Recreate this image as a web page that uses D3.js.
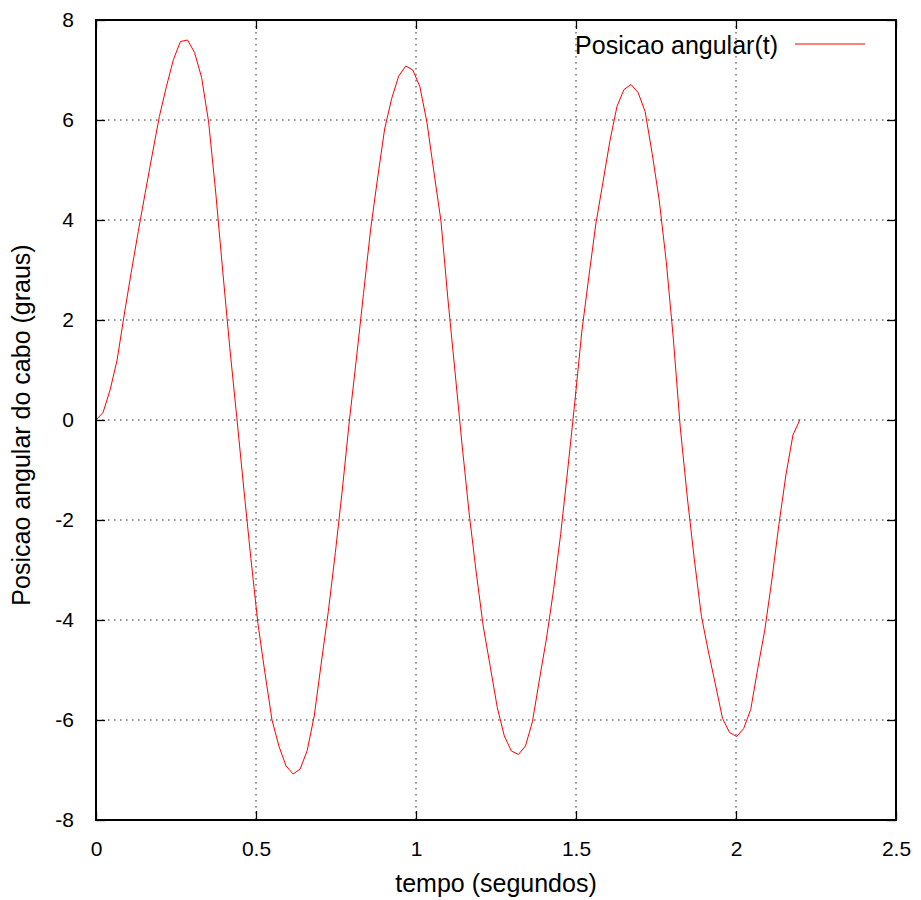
<!DOCTYPE html>
<html>
<head>
<meta charset="utf-8">
<title>Posicao angular do cabo</title>
<script src="https://d3js.org/d3.v7.min.js"></script>
<style>
body { margin: 0; background: #fff; }
svg text { font-family: 'Liberation Sans', Arial, sans-serif; fill: #000; }
.grid line { stroke: #222; stroke-width: 1; stroke-dasharray: 1.5,4.5; }
</style>
</head>
<body>
<div id="chart"></div>
<script>
// tempo (s)
var tempo = [
  0, 0.022, 0.044, 0.066, 0.088, 0.11, 0.132, 0.154, 0.176, 0.198,
  0.22, 0.242, 0.264, 0.286, 0.308, 0.33, 0.352, 0.374, 0.396, 0.418,
  0.44, 0.462, 0.484, 0.506, 0.528, 0.55, 0.572, 0.594, 0.616, 0.638,
  0.66, 0.682, 0.704, 0.726, 0.748, 0.77, 0.792, 0.814, 0.836, 0.858,
  0.88, 0.902, 0.924, 0.946, 0.968, 0.99, 1.012, 1.034, 1.056, 1.078,
  1.1, 1.122, 1.144, 1.166, 1.188, 1.21, 1.232, 1.254, 1.276, 1.298,
  1.32, 1.342, 1.364, 1.386, 1.408, 1.43, 1.452, 1.474, 1.496, 1.518,
  1.54, 1.562, 1.584, 1.606, 1.628, 1.65, 1.672, 1.694, 1.716, 1.738,
  1.76, 1.782, 1.804, 1.826, 1.848, 1.87, 1.892, 1.914, 1.936, 1.958,
  1.98, 2.002, 2.024, 2.046, 2.068, 2.09, 2.112, 2.134, 2.156, 2.178,
  2.2
];

// posicao angular (graus)
var posicao = [
  0, 0.15, 0.6, 1.2, 2.1, 2.95, 3.77, 4.55, 5.32, 6.07,
  6.67, 7.21, 7.57, 7.6, 7.35, 6.85, 5.96, 4.56, 2.98, 1.45,
  0.05, -1.38, -2.77, -4.07, -5.06, -6.0, -6.53, -6.92, -7.08, -6.98,
  -6.61, -5.92, -4.86, -3.83, -2.65, -1.38, 0.0, 1.24, 2.53, 3.8,
  4.84, 5.82, 6.43, 6.88, 7.08, 7.0, 6.67, 5.96, 4.96, 3.98,
  2.4, 0.96, -0.5, -1.86, -3.04, -4.12, -4.93, -5.75, -6.32, -6.62,
  -6.69, -6.52, -6.03, -5.18, -4.36, -3.39, -2.29, -1.0, 0.34, 1.76,
  2.86, 3.92, 4.75, 5.58, 6.27, 6.61, 6.71, 6.55, 6.17, 5.33,
  4.4, 3.17, 1.64, -0.16, -1.56, -2.8, -3.93, -4.64, -5.3, -5.97,
  -6.25, -6.33, -6.17, -5.79, -4.97, -4.2, -3.2, -2.09, -1.1, -0.3,
  0.01
];

var xTicks = [0, 0.5, 1, 1.5, 2, 2.5];
var yTicks = [-8, -6, -4, -2, 0, 2, 4, 6, 8];
var legendLabel = "Posicao angular(t)";

var W = 921, H = 900;
var margin = { top: 20, right: 25, bottom: 80, left: 96 };
var width = W - margin.left - margin.right;
var height = H - margin.top - margin.bottom;

var x = d3.scaleLinear().domain([0, 2.5]).range([0, width]);
var y = d3.scaleLinear().domain([-8, 8]).range([height, 0]);

var svg = d3.select("#chart").append("svg")
  .attr("width", W).attr("height", H);
var g = svg.append("g")
  .attr("transform", "translate(" + margin.left + "," + margin.top + ")");

// grid
var grid = g.append("g").attr("class", "grid");
grid.selectAll(".gx").data(xTicks.slice(1, -1)).enter().append("line")
  .attr("x1", d => x(d)).attr("x2", d => x(d))
  .attr("y1", 0).attr("y2", height);
grid.selectAll(".gy").data(yTicks.slice(1, -1)).enter().append("line")
  .attr("x1", 0).attr("x2", width)
  .attr("y1", d => y(d)).attr("y2", d => y(d));

// axes with inward ticks, mirrored on top/right
var tk = 9;
var fmt = d => String(d);
function styleAxis(sel, showText) {
  sel.select(".domain").remove();
  sel.selectAll(".tick line").attr("stroke", "#000").attr("stroke-width", 1.3);
  sel.selectAll(".tick text").attr("font-size", "21px");
  if (!showText) sel.selectAll(".tick text").remove();
}
g.append("g").attr("transform", "translate(0," + height + ")")
  .call(d3.axisBottom(x).tickValues(xTicks).tickFormat(fmt).tickSize(-tk).tickPadding(21))
  .call(s => styleAxis(s, true));
g.append("g")
  .call(d3.axisTop(x).tickValues(xTicks).tickSize(-tk))
  .call(s => styleAxis(s, false));
g.append("g")
  .call(d3.axisLeft(y).tickValues(yTicks).tickFormat(fmt).tickSize(-tk).tickPadding(22))
  .call(s => styleAxis(s, true));
g.append("g").attr("transform", "translate(" + width + ",0)")
  .call(d3.axisRight(y).tickValues(yTicks).tickSize(-tk))
  .call(s => styleAxis(s, false));

// data line
var pts = tempo.map((t, i) => [t, posicao[i]]);
g.append("path")
  .datum(pts)
  .attr("fill", "none")
  .attr("stroke", "#ff0000")
  .attr("stroke-width", 1)
  .attr("d", d3.line().x(d => x(d[0])).y(d => y(d[1])));

// frame
g.append("rect")
  .attr("x", 0).attr("y", 0).attr("width", width).attr("height", height)
  .attr("fill", "none").attr("stroke", "#000").attr("stroke-width", 2);

// legend
g.append("text")
  .attr("x", 682).attr("y", 25)
  .attr("dy", "0.35em")
  .attr("text-anchor", "end")
  .attr("font-size", "25px")
  .text(legendLabel);
g.append("line")
  .attr("x1", 699).attr("x2", 769).attr("y1", 24).attr("y2", 24)
  .attr("stroke", "#ff0000").attr("stroke-width", 1);

// axis titles
svg.append("text")
  .attr("x", margin.left + width / 2).attr("y", 892)
  .attr("text-anchor", "middle")
  .attr("font-size", "25px")
  .text("tempo (segundos)");
svg.append("text")
  .attr("transform", "translate(30," + (margin.top + height / 2 + 5) + ") rotate(-90)")
  .attr("text-anchor", "middle")
  .attr("font-size", "25px")
  .text("Posicao angular do cabo (graus)");
</script>
</body>
</html>
